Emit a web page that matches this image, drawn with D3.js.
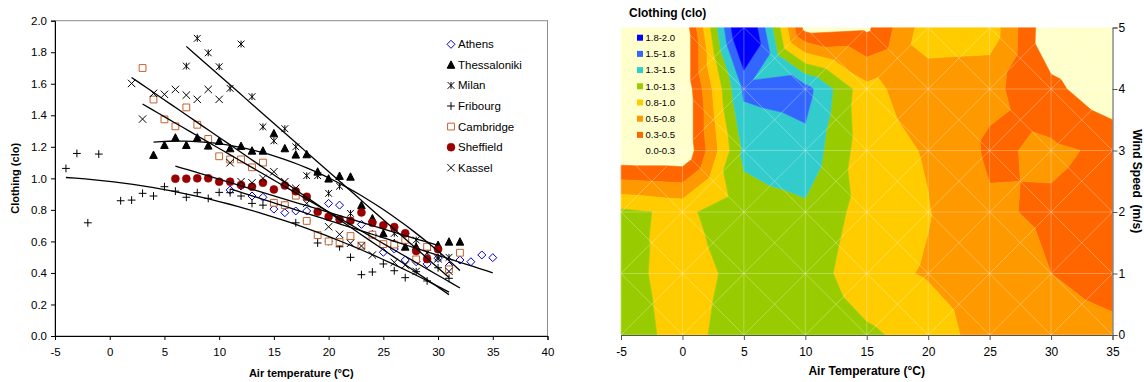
<!DOCTYPE html>
<html><head><meta charset="utf-8">
<script src="https://cdn.jsdelivr.net/npm/d3@7"></script>
<style>
body{margin:0;background:#fff}
svg{display:block}
text{font-family:Arial,"Liberation Sans",sans-serif;fill:#000}
</style>
</head><body>
<svg id="c" width="1144" height="382"></svg>
<script>
// ---------------- LEFT CHART DATA ----------------
const seriesNames = ["Athens","Thessaloniki","Milan","Fribourg","Cambridge","Sheffield","Kassel"];
const athensT = [11,12,13,14,15,16,17,18,20,21,23,24,25,26,27,28,29,30,31,32,33,34,35];
const athensClo = [0.926,0.951,0.888,0.88,0.805,0.782,0.793,0.793,0.841,0.83,0.708,0.645,0.531,0.552,0.482,0.471,0.457,0.493,0.444,0.482,0.471,0.514,0.497];
const thessT = [4,5,6,7,8,9,10,11,12,13,14,15,16,17,18,19,20,21,22,23,24,25,26,27,28,29,30,31,32];
const thessClo = [1.148,1.211,1.258,1.211,1.258,1.207,1.236,1.19,1.205,1.175,1.175,1.285,1.19,1.15,1.152,1.042,0.998,1.015,1.01,0.83,0.746,0.651,0.588,0.566,0.566,0.566,0.577,0.598,0.598];
const milanT = [7,8,9,10,11,12,13,14,15,16,17,18,19,20,21,22,26,27,28,29,30,31];
const milanClo = [1.712,1.888,1.796,1.708,1.571,1.852,1.518,1.327,1.238,1.315,1.2,1.017,1.017,0.905,0.95,0.778,0.651,0.63,0.609,0.528,0.499,0.499];
const fribourgT = [-4,-3,-2,-1,1,2,3,4,5,6,7,8,9,10,11,12,13,14,15,16,17,18,19,20,21,22,23,24,25,26,27,28,29,30,31];
const fribourgClo = [1.063,1.158,0.718,1.154,0.858,0.862,0.905,0.888,0.947,0.919,0.88,0.909,0.873,0.911,0.909,0.888,0.841,0.83,0.845,0.83,0.718,0.73,0.59,0.60,0.566,0.499,0.389,0.406,0.457,0.414,0.37,0.408,0.349,0.433,0.366];
const cambridgeT = [3,4,5,6,7,8,9,10,11,12,13,14,15,16,17,18,19,20,21,22,23,24,25,26,27,28,29,31,32];
const cambridgeClo = [1.70,1.50,1.374,1.33,1.45,1.34,1.25,1.14,1.12,1.12,1.07,1.10,0.845,0.83,0.89,0.73,0.64,0.60,0.596,0.634,0.573,0.643,0.583,0.58,0.61,0.486,0.566,0.423,0.528];
const sheffieldT = [6,7,8,9,10,11,12,13,14,15,16,17,18,19,20,21,22,23,24,25,26,27,28,29,30];
const sheffieldClo = [0.998,0.998,1.0,1.0,0.979,0.979,0.958,0.947,0.972,0.93,0.955,0.918,0.883,0.788,0.757,0.74,0.731,0.784,0.718,0.702,0.691,0.651,0.539,0.488,0.55];
const kasselT = [2,3,4,5,6,7,8,9,10,11,12,13,14,15,16,17,18,20,21,22,23,24,26,27,28,30,31];
const kasselClo = [1.602,1.376,1.539,1.533,1.564,1.528,1.501,1.564,1.501,1.099,0.979,0.972,1.0,1.042,0.979,0.937,0.841,0.693,0.645,0.588,0.571,0.514,0.467,0.45,0.41,0.49,0.41];
const trendOrder = [1,2,1,2,1,1,1]; // polynomial order of each Excel trend line
const xTicksL = [-5,0,5,10,15,20,25,30,35,40];
const yTicksL = [0,0.2,0.4,0.6,0.8,1.0,1.2,1.4,1.6,1.8,2.0];

// ---------------- RIGHT CHART DATA ----------------
const gridTemps = [-5,0,5,10,15,20,25,30,35];
const windSpeeds = [0,1,2,3,4,5];
const cloWind0 = [1.14,0.9,1.14,1.2,1.05,0.88,0.63,0.6,0.56];
const cloWind1 = [1.08,0.9,1.07,1.15,0.82,0.73,0.65,0.5,0.4];
const cloWind2 = [1.05,0.95,1.15,1.2,0.9,0.76,0.535,0.46,0.4];
const cloWind3 = [0,0,1.3,1.42,0.85,0.73,0.46,0.545,0.45];
const cloWind4 = [0,0,1.55,1.6,0.82,0.6,0.56,0.32,0.05];
const cloWind5 = [0,0,2.2,0.15,0.2,0.9,0.9,0.03,0];
const bandThresholds = [0,0.25,0.5,0.75,1.0,1.25,1.5,1.75,2.0];
const bandLabels = ["0.0-0.3","0.3-0.5","0.5-0.8","0.8-1.0","1.0-1.3","1.3-1.5","1.5-1.8","1.8-2.0"];
const bandColors = ["#FFFFCC","#FF6600","#FF9900","#FFCC00","#99CC00","#33CCCC","#3366FF","#0000FF"];
const xTicksR = [-5,0,5,10,15,20,25,30,35];
const yTicksR = [0,1,2,3,4,5];

const svg = d3.select("#c");
const plainInt = d => String(d);

// =============== LEFT CHART ===============
const xL = d3.scaleLinear().domain([-5,40]).range([55,547.5]);
const yL = d3.scaleLinear().domain([0,2]).range([336,20.7]);
const L = svg.append("g");

L.append("rect").attr("x",xL(-5)).attr("y",yL(2)).attr("width",xL(40)-xL(-5)).attr("height",yL(0)-yL(2))
 .attr("fill","none").attr("stroke","#8c8c8c").attr("stroke-width",1);

const axL = L.append("g").attr("transform",`translate(${xL(-5)},0)`)
  .call(d3.axisLeft(yL).tickValues(yTicksL).tickFormat(d3.format(".1f")).tickSize(4).tickPadding(4));
const axB = L.append("g").attr("transform",`translate(0,${yL(0)})`)
  .call(d3.axisBottom(xL).tickValues(xTicksL).tickFormat(plainInt).tickSize(4).tickPadding(8));
[axL,axB].forEach(a=>{
  a.select(".domain").attr("stroke","#000");
  a.selectAll(".tick line").attr("stroke","#000");
  a.selectAll("text").style("font-size","11.5px").attr("fill","#000");
  a.attr("font-family",null);
});

L.append("text").attr("x",xL(17.5)).attr("y",377).attr("text-anchor","middle")
 .style("font-size","11px").style("font-weight","bold").text("Air temperature (°C)");
L.append("text").attr("transform",`translate(19,${yL(1)}) rotate(-90)`).attr("text-anchor","middle")
 .style("font-size","11px").style("font-weight","bold").text("Clothing (clo)");

const seriesT = [athensT,thessT,milanT,fribourgT,cambridgeT,sheffieldT,kasselT];
const seriesC = [athensClo,thessClo,milanClo,fribourgClo,cambridgeClo,sheffieldClo,kasselClo];

const s = 3.4;
const markerPaths = [
  `M0,${-s-0.6}L${s+0.6},0L0,${s+0.6}L${-s-0.6},0Z`,
  `M0,${-s-0.6}L${s+0.4},${s}L${-s-0.4},${s}Z`,
  `M${-s},${-s}L${s},${s}M${-s},${s}L${s},${-s}M0,${-s}L0,${s}`,
  `M${-s-0.5},0L${s+0.5},0M0,${-s-0.5}L0,${s+0.5}`,
  `M${-s},${-s}H${s}V${s}H${-s}Z`,
  null,
  `M${-s-0.3},${-s-0.3}L${s+0.3},${s+0.3}M${-s-0.3},${s+0.3}L${s+0.3},${-s-0.3}`
];
const markerFill = ["#fff","#000","none","none","#fff","#990000","none"];
const markerStroke = ["#0000CC","#000","#000","#000","#C8622D","#990000","#000"];
function drawMarker(g,i,px,py){
  if(i===5){
    g.append("circle").attr("cx",px).attr("cy",py).attr("r",4).attr("fill",markerFill[i]).attr("stroke",markerStroke[i]).attr("stroke-width",0.5);
  } else {
    g.append("path").attr("d",markerPaths[i]).attr("transform",`translate(${px},${py})`)
      .attr("fill",markerFill[i]).attr("stroke",markerStroke[i]).attr("stroke-width",1);
  }
}

function polyFit(xs,ys,order){
  const n=order+1;
  const A=[];for(let i=0;i<n;i++){A.push(new Array(n+1).fill(0));}
  xs.forEach((x,k)=>{
    for(let i=0;i<n;i++){
      for(let j=0;j<n;j++) A[i][j]+=Math.pow(x,i+j);
      A[i][n]+=ys[k]*Math.pow(x,i);
    }
  });
  for(let i=0;i<n;i++){
    let p=i;for(let r=i+1;r<n;r++) if(Math.abs(A[r][i])>Math.abs(A[p][i])) p=r;
    [A[i],A[p]]=[A[p],A[i]];
    for(let r=0;r<n;r++){ if(r===i) continue; const f=A[r][i]/A[i][i]; for(let c=i;c<=n;c++) A[r][c]-=f*A[i][c]; }
  }
  return A.map((row,i)=>row[n]/row[i]);
}

const ptsG = L.append("g");
seriesT.forEach((xs,i)=>{
  xs.forEach((x,k)=>drawMarker(ptsG,i,xL(x),yL(seriesC[i][k])));
});
const lineG = L.append("g");
seriesT.forEach((xs,i)=>{
  const coef = polyFit(xs,seriesC[i],trendOrder[i]);
  const [x0,x1] = d3.extent(xs);
  const samples = d3.range(0,41).map(k=>x0+(x1-x0)*k/40);
  const f = x=>coef.reduce((acc,c,j)=>acc+c*Math.pow(x,j),0);
  lineG.append("path").attr("d",d3.line().x(d=>xL(d)).y(d=>yL(f(d)))(samples))
   .attr("fill","none").attr("stroke","#000").attr("stroke-width",1.3);
});

const lg = L.append("g");
seriesNames.forEach((nm,i)=>{
  const yy = 44.3 + i*20.57;
  drawMarker(lg,i,451,yy);
  lg.append("text").attr("x",458).attr("y",yy+4).style("font-size","11.5px").text(nm);
});

// =============== RIGHT CHART ===============
const xR = d3.scaleLinear().domain([-5,35]).range([621,1112.5]);
const yR = d3.scaleLinear().domain([0,5]).range([335,27.5]);
const R = svg.append("g");
const gridRows = [cloWind0,cloWind1,cloWind2,cloWind3,cloWind4,cloWind5];

function clip(poly,level,above){
  const out=[];
  for(let i=0;i<poly.length;i++){
    const a=poly[i], b=poly[(i+1)%poly.length];
    const ia = above ? a.v>=level : a.v<level;
    const ib = above ? b.v>=level : b.v<level;
    if(ia) out.push(a);
    if(ia!==ib){ const t=(level-a.v)/(b.v-a.v); out.push({x:a.x+t*(b.x-a.x),y:a.y+t*(b.y-a.y),v:level}); }
  }
  return out;
}
const bandPaths = bandColors.map(()=>[]);
for(let j=0;j<windSpeeds.length-1;j++){
  for(let i=0;i<gridTemps.length-1;i++){
    const p00={x:gridTemps[i],y:windSpeeds[j],v:gridRows[j][i]};
    const p10={x:gridTemps[i+1],y:windSpeeds[j],v:gridRows[j][i+1]};
    const p11={x:gridTemps[i+1],y:windSpeeds[j+1],v:gridRows[j+1][i+1]};
    const p01={x:gridTemps[i],y:windSpeeds[j+1],v:gridRows[j+1][i]};
    const c={x:(p00.x+p10.x)/2,y:(p00.y+p01.y)/2,v:(p00.v+p10.v+p11.v+p01.v)/4};
    const tris=[[p00,p10,c],[p10,p11,c],[p11,p01,c],[p01,p00,c]];
    tris.forEach(t=>{
      bandColors.forEach((col,k)=>{
        let poly=t;
        if(k>0) poly=clip(poly,bandThresholds[k],true);
        if(poly.length<3) return;
        if(k<bandColors.length-1) poly=clip(poly,bandThresholds[k+1],false);
        if(poly.length<3) return;
        bandPaths[k].push("M"+poly.map(p=>xR(p.x).toFixed(2)+","+yR(p.y).toFixed(2)).join("L")+"Z");
      });
    });
  }
}
bandPaths.forEach((ps,k)=>{
  R.append("path").attr("d",ps.join("")).attr("fill",bandColors[k]).attr("stroke",bandColors[k]).attr("stroke-width",0.6).attr("stroke-linejoin","round");
});

const gl = R.append("g").attr("stroke","#ffffff").attr("stroke-opacity",0.3).attr("stroke-width",1);
gridTemps.forEach(t=>gl.append("line").attr("x1",xR(t)).attr("x2",xR(t)).attr("y1",yR(0)).attr("y2",yR(5)));
windSpeeds.forEach(w=>gl.append("line").attr("x1",xR(-5)).attr("x2",xR(35)).attr("y1",yR(w)).attr("y2",yR(w)));
for(let j=0;j<windSpeeds.length-1;j++) for(let i=0;i<gridTemps.length-1;i++){
  gl.append("line").attr("x1",xR(gridTemps[i])).attr("y1",yR(windSpeeds[j])).attr("x2",xR(gridTemps[i+1])).attr("y2",yR(windSpeeds[j+1]));
  gl.append("line").attr("x1",xR(gridTemps[i])).attr("y1",yR(windSpeeds[j+1])).attr("x2",xR(gridTemps[i+1])).attr("y2",yR(windSpeeds[j]));
}

const axRB = R.append("g").attr("transform",`translate(0,${yR(0)})`)
  .call(d3.axisBottom(xR).tickValues(xTicksR).tickFormat(plainInt).tickSize(5).tickPadding(7));
const axRR = R.append("g").attr("transform",`translate(${xR(35)},0)`)
  .call(d3.axisRight(yR).tickValues(yTicksR).tickFormat(plainInt).tickSize(5).tickPadding(1));
[axRB,axRR].forEach(a=>{
  a.select(".domain").attr("stroke","#555");
  a.selectAll(".tick line").attr("stroke","#555");
  a.selectAll("text").style("font-size","12px").attr("fill","#000");
  a.attr("font-family",null);
});

R.append("text").attr("x",629).attr("y",17).style("font-size","12px").style("font-weight","bold").text("Clothing (clo)");
R.append("text").attr("x",xR(15)).attr("y",375).attr("text-anchor","middle")
 .style("font-size","12px").style("font-weight","bold").text("Air Temperature (°C)");
R.append("text").attr("transform",`translate(1133,${yR(2.5)}) rotate(90)`).attr("text-anchor","middle")
 .attr("xml:space","preserve")
 .style("font-size","12px").style("font-weight","bold").text("Wind Speed  (m/s)");

const rl = R.append("g");
for(let k=bandColors.length-1;k>=0;k--){
  const yy = 37.7 + (bandColors.length-1-k)*16.2;
  rl.append("rect").attr("x",637).attr("y",yy-3).attr("width",6).attr("height",6).attr("fill",bandColors[k]);
  rl.append("text").attr("x",645.5).attr("y",yy+3.3).style("font-size","9.5px").text(bandLabels[k]);
}
</script>
</body></html>
